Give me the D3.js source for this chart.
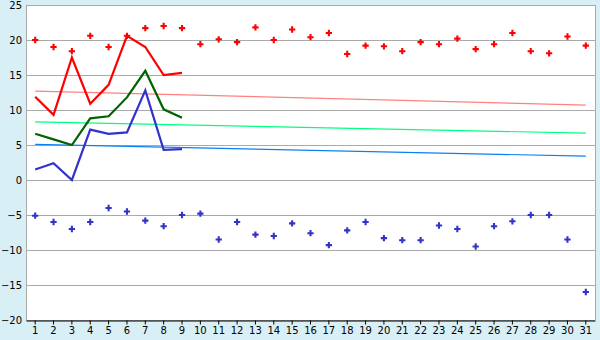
<!DOCTYPE html>
<html>
<head>
<meta charset="utf-8">
<script src="https://cdn.jsdelivr.net/npm/d3@7"></script>
<style>
  body { margin: 0; background: #d9eff6; }
  text { font-family: "DejaVu Sans", Verdana, sans-serif; font-size: 10px; fill: #000; }
</style>
</head>
<body>
<div id="chart"></div>
<script>
var width = 600,
    height = 340;

const margin = { top: 5, right: 5, bottom: 20, left: 26 };

// days of the month
const days = d3.range(1, 32);
const yTicks = [-20, -15, -10, -5, 0, 5, 10, 15, 20, 25];

// daily max / min (markers)
const maxTemp = [20.0, 19.0, 18.4, 20.6, 19.0, 20.6, 21.7, 22.0, 21.7, 19.4,
                 20.1, 19.7, 21.8, 20.0, 21.5, 20.4, 21.0, 18.0, 19.2, 19.1,
                 18.4, 19.7, 19.4, 20.2, 18.7, 19.4, 21.0, 18.4, 18.1, 20.5, 19.2];
const minTemp = [-5.1, -6.0, -7.0, -6.0, -4.0, -4.5, -5.8, -6.6, -5.0, -4.8,
                 -8.5, -6.0, -7.8, -8.0, -6.2, -7.6, -9.3, -7.2, -6.0, -8.3,
                 -8.6, -8.6, -6.5, -7.0, -9.5, -6.6, -5.9, -5.0, -5.0, -8.5, -16.0];

// current month (first 9 days)
const curMax = [11.9, 9.3, 17.5, 10.9, 13.6, 20.6, 19.0, 15.0, 15.3];
const curAvg = [6.6, 5.8, 5.0, 8.8, 9.1, 11.8, 15.6, 10.1, 8.9];
const curMin = [1.5, 2.4, 0.0, 7.2, 6.6, 6.8, 12.8, 4.3, 4.4];

// normals (start, end)
const normMax = [12.7, 10.7];
const normAvg = [8.3, 6.7];
const normMin = [5.1, 3.4];

var svg = d3.select("#chart").append("svg")
    .attr("width", width)
    .attr("height", height);

var x = d3.scaleBand()
    .domain(days)
    .range([margin.left, width - margin.right]);

var cx = d => x(d) + x.bandwidth() / 2;

var y = d3.scaleLinear()
    .domain([-20, 25])
    .range([height - margin.bottom, margin.top]);

// plot background
svg.append("rect")
    .attr("x", margin.left)
    .attr("y", margin.top)
    .attr("width", width - margin.right - margin.left)
    .attr("height", height - margin.bottom - margin.top)
    .attr("fill", "white");

// gridlines
svg.append("g")
    .selectAll("line")
    .data(yTicks)
    .enter()
    .append("line")
    .attr("x1", margin.left)
    .attr("x2", width - margin.right)
    .attr("y1", d => Math.round(y(d)) + 0.5)
    .attr("y2", d => Math.round(y(d)) + 0.5)
    .attr("stroke", "#aaa");

// right + left border
svg.append("line")
    .attr("x1", width - margin.right + 0.5).attr("x2", width - margin.right + 0.5)
    .attr("y1", margin.top).attr("y2", height - margin.bottom)
    .attr("stroke", "#aaa");
svg.append("line")
    .attr("x1", margin.left + 0.5).attr("x2", margin.left + 0.5)
    .attr("y1", margin.top).attr("y2", height - margin.bottom)
    .attr("stroke", "#aaa");

// normal lines
const normals = [
    { v: normMax, color: "#ff8080" },
    { v: normAvg, color: "#00ff80" },
    { v: normMin, color: "#0a80f0" }
];
svg.append("g")
    .selectAll("line")
    .data(normals)
    .enter()
    .append("line")
    .attr("x1", cx(1))
    .attr("x2", cx(31))
    .attr("y1", d => y(d.v[0]))
    .attr("y2", d => y(d.v[1]))
    .attr("stroke", d => d.color)
    .attr("stroke-width", 1.2);

// markers
const cross = d3.symbol().type(d3.symbolCross).size(22);
svg.append("g")
    .selectAll("path")
    .data(maxTemp)
    .enter()
    .append("path")
    .attr("transform", (d, i) => `translate(${cx(days[i])},${y(d)})`)
    .attr("d", cross)
    .attr("fill", "#ff0000");

svg.append("g")
    .selectAll("path")
    .data(minTemp)
    .enter()
    .append("path")
    .attr("transform", (d, i) => `translate(${cx(days[i])},${y(d)})`)
    .attr("d", cross)
    .attr("fill", "#3333cc");

// current month lines
const line = d3.line()
    .x((d, i) => cx(days[i]))
    .y(d => y(d));

const series = [
    { v: curMax, color: "#ff0000" },
    { v: curAvg, color: "#006400" },
    { v: curMin, color: "#3333cc" }
];
svg.append("g")
    .selectAll("path")
    .data(series)
    .enter()
    .append("path")
    .attr("d", d => line(d.v))
    .attr("fill", "none")
    .attr("stroke", d => d.color)
    .attr("stroke-width", 2.2)
    .attr("stroke-linejoin", "miter");

// axes
var xAxis = svg.append("g")
    .attr("transform", `translate(0,${height - margin.bottom + 0.5})`)
    .call(d3.axisBottom(x).tickSize(4).tickSizeOuter(0).tickPadding(2));
xAxis.select(".domain").attr("stroke", "#000");
xAxis.selectAll("text").style("font-size", "10px").attr("fill", "#000");

var yAxis = svg.append("g")
    .attr("transform", `translate(${margin.left},0)`)
    .call(d3.axisLeft(y).tickValues(yTicks).tickSize(0).tickPadding(4));
yAxis.select(".domain").remove();
yAxis.selectAll("text").style("font-size", "10px").attr("fill", "#000");
</script>
</body>
</html>
